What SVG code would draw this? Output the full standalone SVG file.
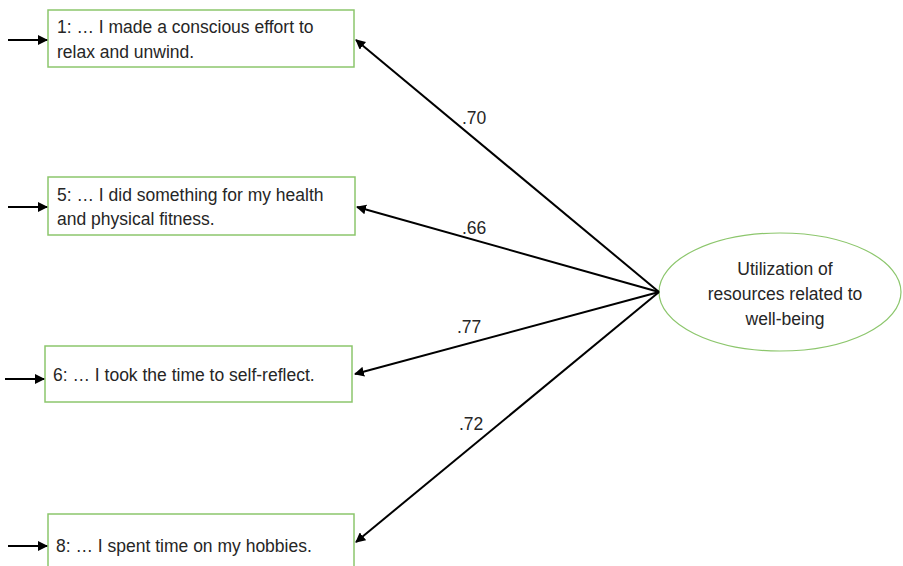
<svg xmlns="http://www.w3.org/2000/svg" width="903" height="566" viewBox="0 0 903 566">
<style>
.box{fill:#fff;stroke:#8cc66c;stroke-width:1.5}
.t{font-family:"Liberation Sans",Arial,sans-serif;font-size:17.5px;fill:#262626}
.c{stroke:#000;stroke-width:2;fill:none;marker-end:url(#ah)}
</style>
<defs>
<marker id="ah" viewBox="0 0 10 10" refX="9" refY="5" markerWidth="5" markerHeight="5" orient="auto" markerUnits="strokeWidth">
<path d="M0,0 L10,5 L0,10 z" fill="#000"/>
</marker>
</defs>
<rect width="903" height="566" fill="#fff"/>
<g id="item1">
<rect class="box" x="48" y="10" width="306" height="57"/>
<text class="t" x="57" y="33">1: … I made a conscious effort to</text>
<text class="t" x="57" y="58">relax and unwind.</text>
</g>
<g id="item5">
<rect class="box" x="48" y="177" width="307" height="58"/>
<text class="t" x="57" y="201">5: … I did something for my health</text>
<text class="t" x="57" y="225">and physical fitness.</text>
</g>
<g id="item6">
<rect class="box" x="45" y="346" width="307" height="56"/>
<text class="t" x="53" y="381">6: … I took the time to self-reflect.</text>
</g>
<g id="item8">
<rect class="box" x="48" y="514" width="306" height="60"/>
<text class="t" x="56" y="552">8: … I spent time on my hobbies.</text>
</g>
<g id="factor">
<ellipse cx="780" cy="292" rx="121" ry="59" fill="#fff" stroke="#8cc66c" stroke-width="1.2"/>
<text class="t" x="785" y="275" text-anchor="middle">Utilization of</text>
<text class="t" x="785" y="300" text-anchor="middle">resources related to</text>
<text class="t" x="785" y="325" text-anchor="middle">well-being</text>
</g>
<g id="connectors">
<line class="c" x1="8" y1="40" x2="47" y2="40"/>
<line class="c" x1="8" y1="207" x2="47" y2="207"/>
<line class="c" x1="5" y1="379" x2="44" y2="379"/>
<line class="c" x1="8" y1="546" x2="47" y2="546"/>
<line class="c" x1="659" y1="292" x2="356" y2="40"/>
<line class="c" x1="659" y1="292" x2="357" y2="207"/>
<line class="c" x1="659" y1="292" x2="355" y2="374"/>
<line class="c" x1="659" y1="292" x2="356" y2="542"/>
<text class="t" x="462" y="124">.70</text>
<text class="t" x="462" y="234">.66</text>
<text class="t" x="457" y="333">.77</text>
<text class="t" x="459" y="430">.72</text>
</g>
</svg>
